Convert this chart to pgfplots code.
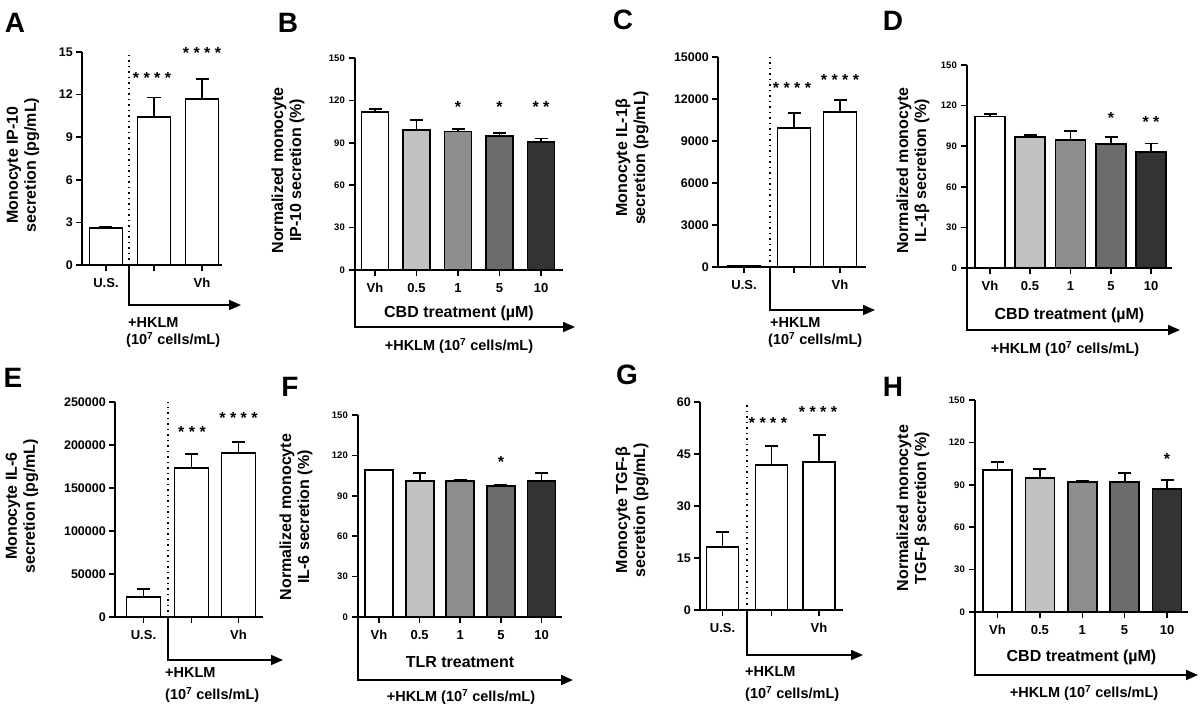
\documentclass[border=0pt]{standalone}
\usepackage{fontspec}
\setmainfont{Liberation Sans}
\usepackage{pgfplots}
\pgfplotsset{compat=1.18}
\usetikzlibrary{arrows.meta}
\definecolor{g1}{HTML}{C2C2C2}
\definecolor{g2}{HTML}{8E8E8E}
\definecolor{g3}{HTML}{6C6C6C}
\definecolor{g4}{HTML}{333333}
\tikzset{
  sig/.style={font=\bfseries\fontsize{16}{16}\selectfont, inner sep=0pt},
  hk/.style={font=\bfseries\fontsize{14.5}{14.5}\selectfont, inner sep=0pt},
  arr/.style={line width=1.8pt, -{Triangle[length=12pt,width=10pt]}},
  dots/.style={black, line width=1.6pt, dash pattern=on 1.5pt off 4pt},
  plet/.style={font=\bfseries\fontsize{28}{28}\selectfont, inner sep=0pt},
}
\pgfplotsset{
  prism/.style={
    scale only axis, anchor=south west, clip=false,
    axis lines=left, axis line style={-, line width=1.8pt},
    xmin=0, ymin=0, scaled y ticks=false,
    tick align=outside, major tick length=6pt,
    tick style={black, line width=1.6pt},
    /pgf/number format/fixed,
    /pgf/number format/1000 sep={},
    /pgf/number format/assume math mode=true,
    yticklabel style={font=\bfseries\fontsize{12.5}{12.5}\selectfont, inner sep=3pt},
    xticklabel style={font=\bfseries\fontsize{13}{13}\selectfont, yshift=-4pt},
    ylabel style={font=\bfseries\fontsize{16}{18}\selectfont, align=center, anchor=center},
    xlabel style={font=\bfseries\fontsize{16}{18}\selectfont, anchor=center},
  },
  rprism/.style={prism, ymax=150, ytick={0,30,...,150},
    yticklabel style={font=\bfseries\fontsize{9.5}{9.5}\selectfont, inner sep=4pt}},
  pbar/.style={ybar, bar shift=0pt, draw=black, line width=1.8pt,
    error bars/y dir=plus, error bars/y explicit,
    error bars/error bar style={line width=1.8pt, black},
    error bars/error mark options={line width=1.8pt, black, mark size=6.5pt, rotate=90}},
}
\begin{document}
\begin{tikzpicture}
\useasboundingbox (0,0) rectangle (1200pt,-709pt);
% panel letters
\node[plet] at (15pt,-23pt) {A};
\node[plet] at (288pt,-23pt) {B};
\node[plet] at (623pt,-20pt) {C};
\node[plet] at (893pt,-21pt) {D};
\node[plet] at (13pt,-378pt) {E};
\node[plet] at (290pt,-387pt) {F};
\node[plet] at (627pt,-375pt) {G};
\node[plet] at (893pt,-387pt) {H};

% ---------------- A
\begin{axis}[prism, at={(82pt,-265pt)}, width=140pt, height=213pt,
  xmax=140, ymax=15, ytick={0,3,...,15}, xtick={24,72,120}, xticklabels={U.S.,,Vh},
  bar width=33,
  ylabel={Monocyte IP-10\\secretion (pg/mL)},
  ylabel style={at={(axis description cs:-0.421,0.47)}}]
\addplot[fill=white,pbar] coordinates {(24,2.6) +- (0,0.1)};
\addplot[fill=white,pbar] coordinates {(72,10.4) +- (0,1.4)};
\addplot[fill=white,pbar] coordinates {(120,11.7) +- (0,1.4)};
\draw[dots] (axis cs:47,0) -- (axis cs:47,15);
\draw[arr] (axis cs:47,0) -- ++(0pt,-40pt) -- ++(112pt,0pt);
\node[sig] at (axis cs:70,13.2) {* * * *};
\node[sig] at (axis cs:120,14.9) {* * * *};
\node[hk, anchor=west, yshift=-58pt] at (axis cs:46,0) {+HKLM};
\node[hk, anchor=west, yshift=-75pt] at (axis cs:44,0) {(10\textsuperscript{7} cells/mL)};
\end{axis}

% ---------------- B
\begin{axis}[rprism, at={(355pt,-270pt)}, width=208pt, height=212pt,
  xmax=208, xtick={20,61.5,103,144.5,186}, xticklabels={Vh,0.5,1,5,10},
  bar width=27,
  ylabel={Normalized monocyte\\IP-10 secretion (\%)},
  ylabel style={at={(axis description cs:-0.322,0.47)}},
  xlabel={CBD treatment (µM)},
  xlabel style={at={(axis description cs:0.5,-0.205)}}]
\addplot[fill=white,pbar] coordinates {(20,111.8) +- (0,2)};
\addplot[fill=g1,pbar] coordinates {(61.5,99) +- (0,7)};
\addplot[fill=g2,pbar] coordinates {(103,98) +- (0,2)};
\addplot[fill=g3,pbar] coordinates {(144.5,95) +- (0,2)};
\addplot[fill=g4,pbar] coordinates {(186,90.6) +- (0,2.5)};
\node[sig] at (axis cs:103,115) {*};
\node[sig] at (axis cs:144.5,115) {*};
\node[sig] at (axis cs:186,115) {* *};
\draw[arr] (axis cs:0,0) -- ++(0pt,-57pt) -- ++(220pt,0pt);
\node[hk, yshift=-76pt] at (axis cs:104,0) {+HKLM (10\textsuperscript{7} cells/mL)};
\end{axis}

% ---------------- C
\begin{axis}[prism, at={(718pt,-267pt)}, width=148pt, height=210pt,
  xmax=148, ymax=15000, ytick={0,3000,...,15000}, xtick={26,76,122}, xticklabels={U.S.,,Vh},
  bar width=33,
  ylabel={Monocyte IL-1β\\secretion (pg/mL)},
  ylabel style={at={(axis description cs:-0.581,0.52)}}]
\addplot[fill=white,pbar] coordinates {(26,50) +- (0,50)};
\addplot[fill=white,pbar] coordinates {(76,9930) +- (0,1070)};
\addplot[fill=white,pbar] coordinates {(122,11070) +- (0,860)};
\draw[dots] (axis cs:52,0) -- (axis cs:52,15000);
\draw[arr] (axis cs:52,0) -- ++(0pt,-43pt) -- ++(105pt,0pt);
\node[sig] at (axis cs:74,12786) {* * * *};
\node[sig] at (axis cs:122,13357) {* * * *};
\node[hk, anchor=west, yshift=-56pt] at (axis cs:52,0) {+HKLM};
\node[hk, anchor=west, yshift=-73pt] at (axis cs:50,0) {(10\textsuperscript{7} cells/mL)};
\end{axis}

% ---------------- D
\begin{axis}[rprism, at={(967pt,-268pt)}, width=205pt, height=203pt,
  xmax=205, xtick={23,63,103.5,144,184}, xticklabels={Vh,0.5,1,5,10},
  bar width=30,
  ylabel={Normalized monocyte\\IL-1β secretion (\%)},
  ylabel style={at={(axis description cs:-0.263,0.48)}},
  xlabel={CBD treatment (µM)},
  xlabel style={at={(axis description cs:0.5,-0.232)}}]
\addplot[fill=white,pbar] coordinates {(23,112) +- (0,1.5)};
\addplot[fill=g1,pbar] coordinates {(63,97) +- (0,1)};
\addplot[fill=g2,pbar] coordinates {(103.5,94.6) +- (0,6.4)};
\addplot[fill=g3,pbar] coordinates {(144,91.6) +- (0,5.4)};
\addplot[fill=g4,pbar] coordinates {(184,85.7) +- (0,6.3)};
\node[sig] at (axis cs:144,110.9) {*};
\node[sig] at (axis cs:184,108) {* *};
\draw[arr] (axis cs:0,0) -- ++(0pt,-62pt) -- ++(213pt,0pt);
\node[hk, yshift=-81pt] at (axis cs:98,0) {+HKLM (10\textsuperscript{7} cells/mL)};
\end{axis}

% ---------------- E
\begin{axis}[prism, at={(115pt,-617pt)}, width=148pt, height=215pt,
  xmax=148, ymax=250000, ytick={0,50000,...,250000}, xtick={28.5,76.5,123.5}, xticklabels={U.S.,,Vh},
  bar width=34,
  ylabel={Monocyte IL-6\\secretion (pg/mL)},
  ylabel style={at={(axis description cs:-0.628,0.516)}}]
\addplot[fill=white,pbar] coordinates {(28.5,23000) +- (0,9500)};
\addplot[fill=white,pbar] coordinates {(76.5,173000) +- (0,16500)};
\addplot[fill=white,pbar] coordinates {(123.5,191000) +- (0,12500)};
\draw[dots] (axis cs:53,0) -- (axis cs:53,250000);
\draw[arr] (axis cs:53,0) -- ++(0pt,-43pt) -- ++(115pt,0pt);
\node[sig] at (axis cs:77,215000) {* * *};
\node[sig] at (axis cs:123.5,231000) {* * * *};
\node[hk, anchor=west, yshift=-56pt] at (axis cs:50,0) {+HKLM};
\node[hk, anchor=west, yshift=-78pt] at (axis cs:50,0) {(10\textsuperscript{7} cells/mL)};
\end{axis}

% ---------------- F
\begin{axis}[rprism, at={(358pt,-617pt)}, width=204pt, height=202pt,
  xmax=204, xtick={21,61.6,102.25,142.9,183.5}, xticklabels={Vh,0.5,1,5,10},
  bar width=28,
  ylabel={Normalized monocyte\\IL-6 secretion (\%)},
  ylabel style={at={(axis description cs:-0.304,0.495)}},
  xlabel={TLR treatment},
  xlabel style={at={(axis description cs:0.5,-0.223)}}]
\addplot[fill=white,pbar] coordinates {(21,109) +- (0,0.5)};
\addplot[fill=g1,pbar] coordinates {(61.6,101) +- (0,6)};
\addplot[fill=g2,pbar] coordinates {(102.25,101) +- (0,1)};
\addplot[fill=g3,pbar] coordinates {(142.9,97) +- (0,1)};
\addplot[fill=g4,pbar] coordinates {(183.5,101) +- (0,6)};
\node[sig] at (axis cs:142.9,115) {*};
\draw[arr] (axis cs:0,0) -- ++(0pt,-63pt) -- ++(215pt,0pt);
\node[hk, yshift=-80pt] at (axis cs:103,0) {+HKLM (10\textsuperscript{7} cells/mL)};
\end{axis}

% ---------------- G
\begin{axis}[prism, at={(700pt,-610pt)}, width=143pt, height=208pt,
  xmax=143, ymax=60, ytick={0,15,...,60}, xtick={22.5,71.5,119}, xticklabels={U.S.,,Vh},
  bar width=32,
  ylabel={Monocyte TGF-β\\secretion (pg/mL)},
  ylabel style={at={(axis description cs:-0.476,0.48)}}]
\addplot[fill=white,pbar] coordinates {(22.5,18.2) +- (0,4.3)};
\addplot[fill=white,pbar] coordinates {(71.5,41.8) +- (0,5.5)};
\addplot[fill=white,pbar] coordinates {(119,42.7) +- (0,7.8)};
\draw[dots] (axis cs:47,0) -- (axis cs:47,60);
\draw[arr] (axis cs:47,0) -- ++(0pt,-45pt) -- ++(116pt,0pt);
\node[sig] at (axis cs:68,53.9) {* * * *};
\node[sig] at (axis cs:118,57.1) {* * * *};
\node[hk, anchor=west, yshift=-62pt] at (axis cs:45,0) {+HKLM};
\node[hk, anchor=west, yshift=-84pt] at (axis cs:45,0) {(10\textsuperscript{7} cells/mL)};
\end{axis}

% ---------------- H
\begin{axis}[rprism, at={(975pt,-612pt)}, width=213pt, height=212pt,
  xmax=213, xtick={22.5,64.9,107.3,149.6,192}, xticklabels={Vh,0.5,1,5,10},
  bar width=29,
  ylabel={Normalized monocyte\\TGF-β secretion (\%)},
  ylabel style={at={(axis description cs:-0.291,0.49)}},
  xlabel={CBD treatment (µM)},
  xlabel style={at={(axis description cs:0.5,-0.212)}}]
\addplot[fill=white,pbar] coordinates {(22.5,100.7) +- (0,5.3)};
\addplot[fill=g1,pbar] coordinates {(64.9,95) +- (0,6)};
\addplot[fill=g2,pbar] coordinates {(107.3,92) +- (0,1)};
\addplot[fill=g3,pbar] coordinates {(149.6,92) +- (0,6.6)};
\addplot[fill=g4,pbar] coordinates {(192,87) +- (0,6.6)};
\node[sig] at (axis cs:192,108) {*};
\draw[arr] (axis cs:0,0) -- ++(0pt,-63pt) -- ++(223pt,0pt);
\node[hk, yshift=-81pt] at (axis cs:109,0) {+HKLM (10\textsuperscript{7} cells/mL)};
\end{axis}
\end{tikzpicture}
\end{document}
